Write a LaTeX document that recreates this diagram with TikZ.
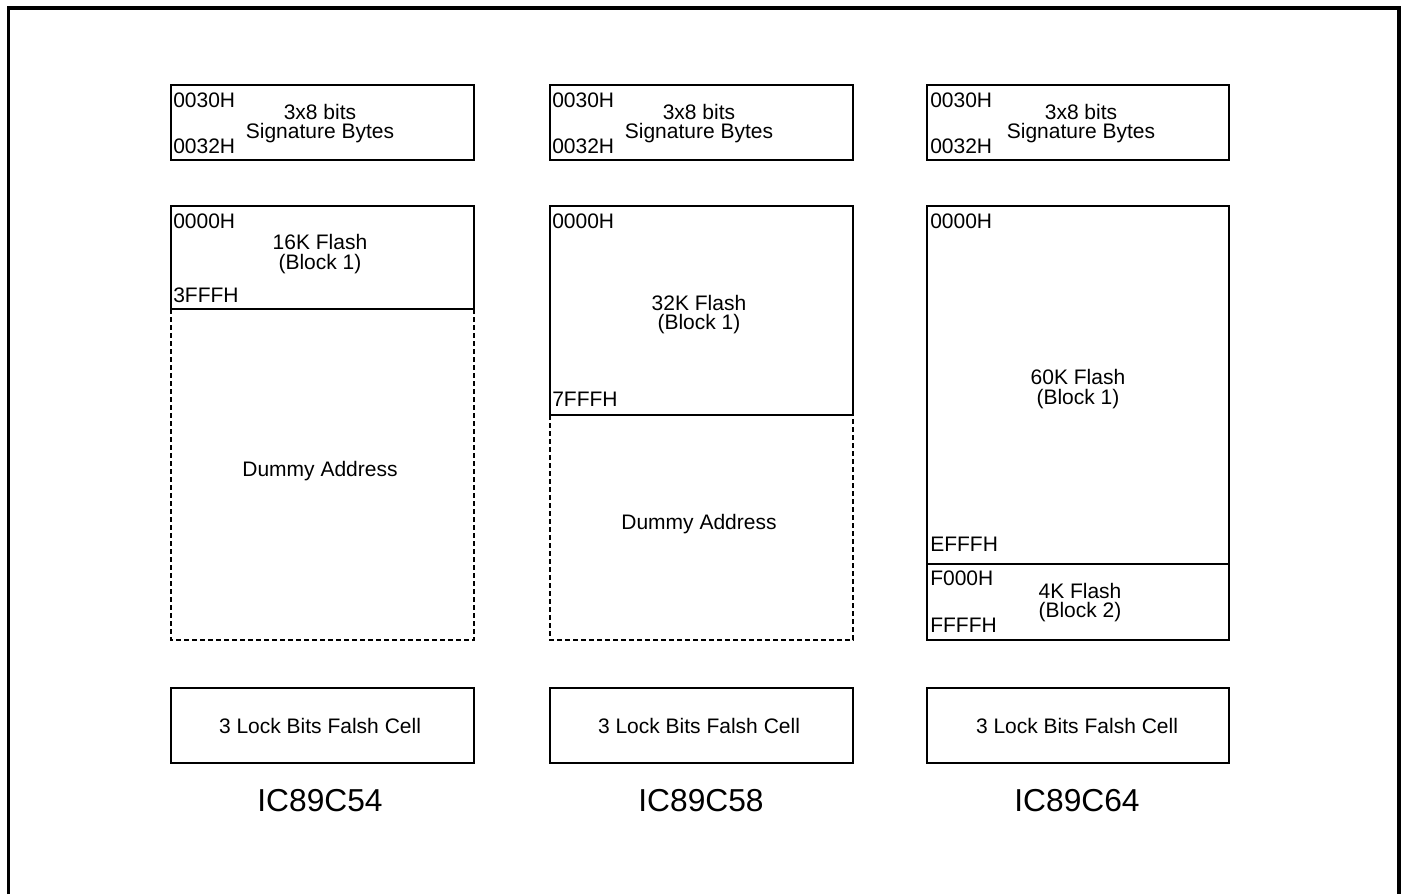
\documentclass[tikz,border=0pt]{standalone}
\usepackage{fontspec}
\setmainfont{Liberation Sans}
\begin{document}
\begin{tikzpicture}[x=0.75pt,y=-0.75pt,
  solidbox/.style={line width=2pt},
  dashbox/.style={line width=2pt,dash pattern=on 3.6pt off 2.4pt},
  frame/.style={line width=2.4pt},
  txt/.style={inner sep=0pt,font=\fontsize{15.75}{18}\selectfont},
  addr/.style={txt,anchor=west},
  title/.style={inner sep=0pt,font=\fontsize{23.8}{28}\selectfont}]
\useasboundingbox (0,0) rectangle (1403,894);
\draw[frame] (8.5,894) -- (8.5,8) -- (1399,8) -- (1399,894);

% column 1
\draw[solidbox] (171,85) rectangle (474,160);
\node[addr] (c1a) at (173,100) {0030H};
\node[addr] (c1b) at (173,146) {0032H};
\node[txt] (c1s1) at (320,112) {3x8 bits};
\node[txt] (c1s2) at (320,133) {Signature Bytes};
\draw[dashbox] (171,309) -- (171,640) -- (474,640) -- (474,309);
\draw[solidbox] (171,206) rectangle (474,309);
\node[addr] (c1f0) at (173,221) {0000H};
\node[txt] (c1f1) at (320,242) {16K Flash};
\node[txt] (c1f2) at (320,264) {(Block 1)};
\node[addr] (c1f3) at (173,295) {3FFFH};
\node[txt] (c1d) at (320,471) {Dummy Address};
\draw[solidbox] (171,688) rectangle (474,763);
\node[txt] (c1l) at (320,726) {3 Lock Bits Falsh Cell};
\node[title] (c1t) at (320,801) {IC89C54};

% column 2
\draw[solidbox] (550,85) rectangle (853,160);
\node[addr] (c2a) at (552,100) {0030H};
\node[addr] (c2b) at (552,146) {0032H};
\node[txt] (c2s1) at (699,112) {3x8 bits};
\node[txt] (c2s2) at (699,133) {Signature Bytes};
\draw[dashbox] (550,415) -- (550,640) -- (853,640) -- (853,415);
\draw[solidbox] (550,206) rectangle (853,415);
\node[addr] (c2f0) at (552,221) {0000H};
\node[txt] (c2f1) at (699,303) {32K Flash};
\node[txt] (c2f2) at (699,324) {(Block 1)};
\node[addr] (c2f3) at (552,399) {7FFFH};
\node[txt] (c2d) at (699,524) {Dummy Address};
\draw[solidbox] (550,688) rectangle (853,763);
\node[txt] (c2l) at (699,726) {3 Lock Bits Falsh Cell};
\node[title] (c2t) at (701,801) {IC89C58};

% column 3
\draw[solidbox] (927,85) rectangle (1229,160);
\node[addr] (c3a) at (930,100) {0030H};
\node[addr] (c3b) at (930,146) {0032H};
\node[txt] (c3s1) at (1081,112) {3x8 bits};
\node[txt] (c3s2) at (1081,133) {Signature Bytes};
\draw[solidbox] (927,206) rectangle (1229,564);
\draw[solidbox] (927,564) rectangle (1229,640);
\node[addr] (c3f0) at (930,221) {0000H};
\node[txt] (c3f1) at (1078,377) {60K Flash};
\node[txt] (c3f2) at (1078,399) {(Block 1)};
\node[addr] (c3f3) at (930,544) {EFFFH};
\node[addr] (c3g0) at (930,578) {F000H};
\node[txt] (c3g1) at (1080,591) {4K Flash};
\node[txt] (c3g2) at (1080,612) {(Block 2)};
\node[addr] (c3g3) at (930,625) {FFFFH};
\draw[solidbox] (927,688) rectangle (1229,763);
\node[txt] (c3l) at (1077,726) {3 Lock Bits Falsh Cell};
\node[title] (c3t) at (1077,801) {IC89C64};
\end{tikzpicture}
\end{document}
